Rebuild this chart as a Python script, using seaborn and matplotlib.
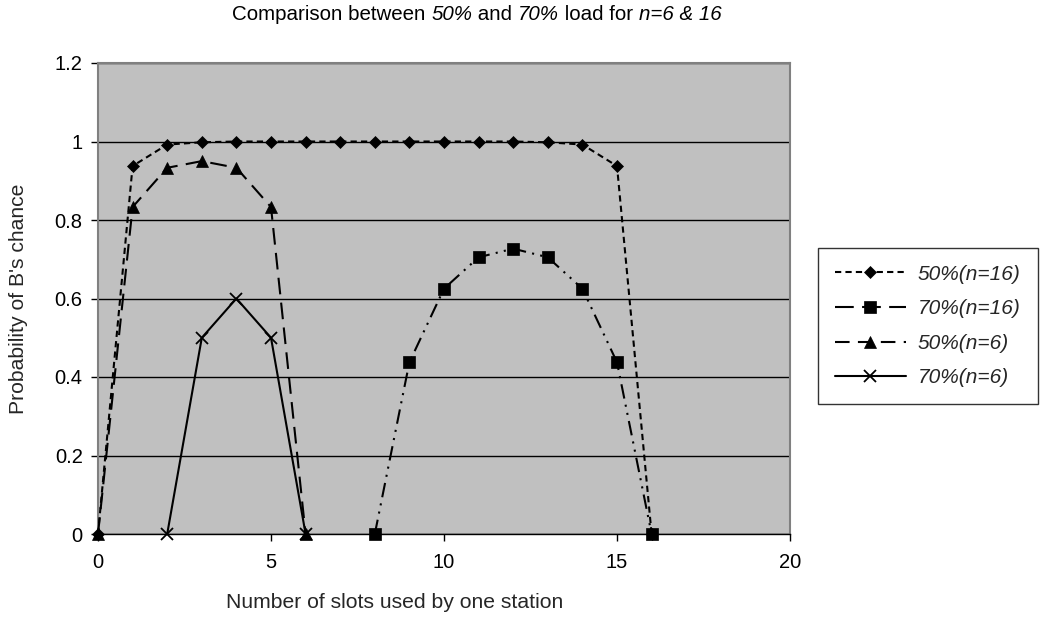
import matplotlib
matplotlib.use("Agg")
import matplotlib.pyplot as plt
import seaborn as sns
import pandas as pd
from matplotlib.offsetbox import TextArea, HPacker, AnchoredOffsetbox

# ---- data ----
x_50_16 = list(range(0, 17))
y_50_16 = [0, 0.9375, 0.9922, 0.998, 1, 1, 1, 1, 1, 1, 1, 1, 1, 0.998, 0.9922, 0.9375, 0]
x_70_16 = list(range(8, 17))
y_70_16 = [0, 0.4375, 0.625, 0.705, 0.727, 0.705, 0.625, 0.4375, 0]
x_50_6 = list(range(0, 7))
y_50_6 = [0, 0.833, 0.933, 0.95, 0.933, 0.833, 0]
x_70_6 = list(range(2, 7))
y_70_6 = [0, 0.5, 0.6, 0.5, 0]
series_names = ["50%(n=16)", "70%(n=16)", "50%(n=6)", "70%(n=6)"]
x_ticks = [0, 5, 10, 15, 20]
y_ticks = [0, 0.2, 0.4, 0.6, 0.8, 1, 1.2]
y_tick_labels = ["0", "0.2", "0.4", "0.6", "0.8", "1", "1.2"]

frames = []
for name, xs, ys in zip(series_names, [x_50_16, x_70_16, x_50_6, x_70_6],
                        [y_50_16, y_70_16, y_50_6, y_70_6]):
    frames.append(pd.DataFrame({"x": xs, "y": ys, "series": name}))
df = pd.concat(frames, ignore_index=True)

sns.set_theme(style="white")
plt.rcParams['font.family'] = ['Liberation Sans', 'DejaVu Sans']

fig = plt.figure(figsize=(10.42, 6.22), dpi=100)
ax = fig.add_axes([98/1042, 88/622, (790-98)/1042, (534-63)/622])
ax.set_facecolor("#C0C0C0")

dashes = {"50%(n=16)": (3, 2), "70%(n=16)": (7, 3, 1, 3, 1, 3),
          "50%(n=6)": (8, 4), "70%(n=6)": ""}
legend_dashes = {"50%(n=16)": (3, 2), "70%(n=16)": (9, 4),
                 "50%(n=6)": (7, 4), "70%(n=6)": ""}
markers = {"50%(n=16)": "D", "70%(n=16)": "s", "50%(n=6)": "^", "70%(n=6)": "x"}
sizes = {"50%(n=16)": 6.5, "70%(n=16)": 8.5, "50%(n=6)": 8.5, "70%(n=6)": 8}

for name in series_names:
    sub = df[df.series == name]
    sns.lineplot(data=sub, x="x", y="y", ax=ax, color="black", linewidth=1.5,
                 marker=markers[name], markersize=sizes[name], markeredgecolor="black",
                 markeredgewidth=1.3 if name == "70%(n=6)" else 0.5,
                 dashes=False, label=name, clip_on=False, zorder=3)
    ln = ax.lines[-1]
    if dashes[name]:
        ln.set_dashes(dashes[name])

ax.set_xlim(0, 20)
ax.set_ylim(0, 1.2)
ax.set_xticks(x_ticks)
ax.set_xticklabels([str(t) for t in x_ticks])
ax.set_yticks(y_ticks)
ax.set_yticklabels(y_tick_labels)
ax.yaxis.grid(True, color="black", linewidth=1)
ax.xaxis.grid(False)
ax.set_axisbelow(True)
ax.tick_params(axis="both", labelsize=14.5, colors="black", direction="out",
               length=5, width=1, bottom=True, left=True)
ax.tick_params(axis="x", pad=9)
ax.tick_params(axis="y", pad=6)
for s in ["top", "right", "left"]:
    ax.spines[s].set_color("#808080")
    ax.spines[s].set_linewidth(1.5)
ax.spines["bottom"].set_color("black")
ax.spines["bottom"].set_linewidth(1)

ax.set_xlabel("Number of slots used by one station", fontsize=15.2)
ax.xaxis.set_label_coords((395 - 98) / 692, -(603 - 534) / 471)
ax.xaxis.label.set_verticalalignment("center")
ax.set_ylabel("Probability of B's chance", fontsize=15.2, labelpad=19)

handles, labels = ax.get_legend_handles_labels()
leg = ax.legend(handles, labels, loc="center left",
                bbox_to_anchor=(818/1042, 1 - 326/622), bbox_transform=fig.transFigure,
                frameon=True, fancybox=False, edgecolor="black", facecolor="white",
                prop={"style": "italic", "size": 15}, handlelength=3.4,
                labelspacing=0.75, borderpad=0.8, handletextpad=0.6, borderaxespad=0)
leg.get_frame().set_linewidth(1)
for lh, name in zip(leg.get_lines(), labels):
    if legend_dashes[name]:
        lh.set_dashes(legend_dashes[name])

# title with mixed italic
parts = [("Comparison between ", "normal"), ("50%", "italic"), (" and ", "normal"),
         ("70%", "italic"), (" load for ", "normal"), ("n=6 & 16", "italic")]
areas = [TextArea(t, textprops=dict(fontsize=14.8, style=st, color="black")) for t, st in parts]
box = HPacker(children=areas, align="baseline", pad=0, sep=0)
ab = AnchoredOffsetbox(loc="center", child=box, frameon=False,
                       bbox_to_anchor=(477/1042, 1 - 14/622), bbox_transform=fig.transFigure,
                       borderpad=0, pad=0)
fig.add_artist(ab)

fig.savefig("out.png", dpi=100)
